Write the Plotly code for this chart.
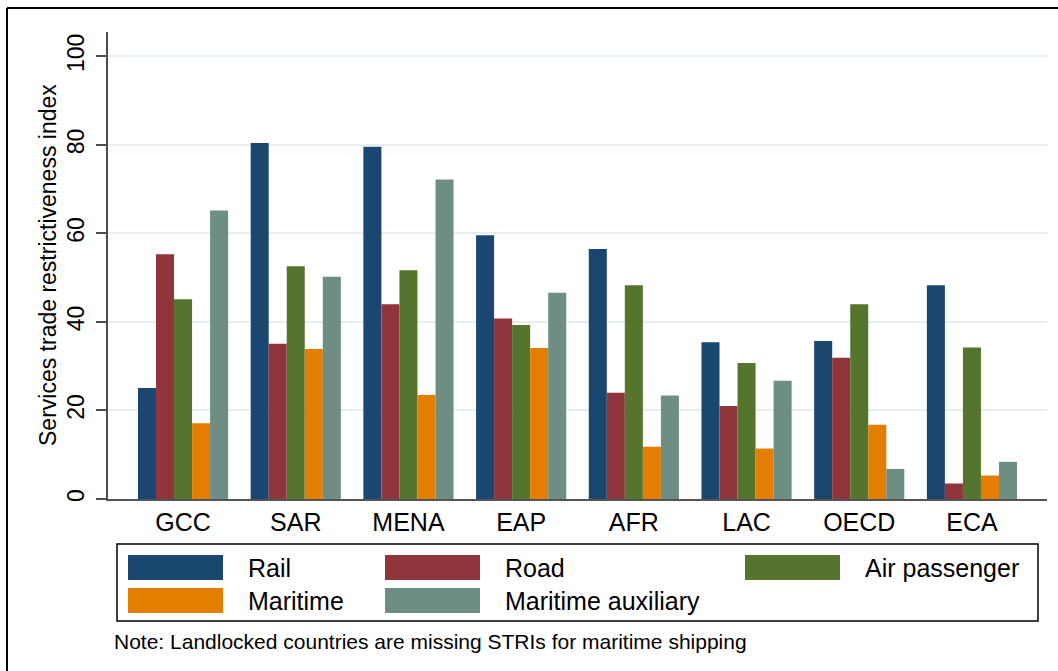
import plotly.graph_objects as go

regions = ["GCC", "SAR", "MENA", "EAP", "AFR", "LAC", "OECD", "ECA"]
rail = [25.1, 80.4, 79.6, 59.6, 56.5, 35.4, 35.7, 48.3]
road = [55.3, 35.1, 44.0, 40.8, 24.0, 21.0, 31.9, 3.5]
air_passenger = [45.1, 52.6, 51.7, 39.3, 48.3, 30.7, 44.0, 34.2]
maritime = [17.1, 33.9, 23.5, 34.1, 11.8, 11.4, 16.8, 5.3]
maritime_aux = [65.2, 50.2, 72.2, 46.6, 23.4, 26.7, 6.8, 8.4]

series_names = ["Rail", "Road", "Air passenger", "Maritime", "Maritime auxiliary"]
series_values = [rail, road, air_passenger, maritime, maritime_aux]
colors = ["#1a476f", "#90353b", "#55752f", "#e37e00", "#6e8e84"]

W, H = 1058, 671
L, R, T, B = 108, 11, 32, 172
FONT = "Liberation Sans, Arial, sans-serif"

# pixel -> paper helpers for the hand-made legend / frame
def px(x):
    return (x - L) / (W - L - R)

def py(y):
    return (H - B - y) / (H - T - B)

fig = go.Figure()
for name, vals, col in zip(series_names, series_values, colors):
    fig.add_trace(go.Bar(x=list(range(len(regions))), y=vals, name=name,
                         marker=dict(color=col, line=dict(width=0)),
                         showlegend=False))

shapes = []
annotations = []

# y title placed by hand (axis title standoff can't get close enough)
annotations.append(dict(text="Services trade restrictiveness index",
                        xref="paper", yref="paper", x=px(48), y=py(265),
                        textangle=-90, xanchor="center", yanchor="middle",
                        showarrow=False,
                        font=dict(size=23, color="black", family=FONT)))

# legend box
shapes.append(dict(type="rect", xref="paper", yref="paper",
                   x0=px(117), x1=px(1038), y0=py(544), y1=py(621),
                   line=dict(color="black", width=1.5), fillcolor="white"))
legend_slots = [(128, 555), (385, 555), (745, 555), (128, 588), (385, 588)]
for (sx, sy), name, col in zip(legend_slots, series_names, colors):
    shapes.append(dict(type="rect", xref="paper", yref="paper",
                       x0=px(sx), x1=px(sx + 95), y0=py(sy), y1=py(sy + 25),
                       line=dict(width=0), fillcolor=col))
    annotations.append(dict(text=name, xref="paper", yref="paper",
                            x=px(sx + 118), y=py(sy + 13),
                            xanchor="left", yanchor="middle", showarrow=False,
                            font=dict(size=25, color="black", family=FONT)))

annotations.append(dict(text="Note: Landlocked countries are missing STRIs for maritime shipping",
                        xref="paper", yref="paper", x=px(112), y=py(641),
                        xanchor="left", yanchor="middle", showarrow=False,
                        font=dict(size=21, color="black", family=FONT)))

# outer frame (left and top edges visible)
shapes.append(dict(type="line", xref="paper", yref="paper",
                   x0=px(7), x1=px(7), y0=py(8), y1=py(H + 5),
                   line=dict(color="black", width=2)))
shapes.append(dict(type="line", xref="paper", yref="paper",
                   x0=px(7), x1=px(W + 5), y0=py(8), y1=py(8),
                   line=dict(color="black", width=2)))

fig.update_layout(
    width=W, height=H,
    margin=dict(l=L, r=R, t=T, b=B),
    paper_bgcolor="white", plot_bgcolor="white",
    barmode="group", bargap=0.2, bargroupgap=0,
    font=dict(family=FONT, color="black", size=22),
    xaxis=dict(tickmode="array", tickvals=list(range(len(regions))), ticktext=regions,
               range=[-0.666, len(regions) - 1 + 0.666],
               showline=True, linecolor="#555555", linewidth=2,
               showgrid=False, ticks="", tickfont=dict(size=25), zeroline=False),
    yaxis=dict(range=[0, 105.5], tickvals=[0, 20, 40, 60, 80, 100],
               tickangle=-90, ticks="outside", ticklen=10, tickwidth=1.5,
               tickcolor="#4d4d4d", ticklabelstandoff=3,
               showline=True, linecolor="#4d4d4d", linewidth=1.5,
               gridcolor="#e8eff1", gridwidth=1.5, zeroline=False,
               tickfont=dict(size=23)),
    shapes=shapes,
    annotations=annotations,
)

# page body has a default 8px margin; drop it so the figure sits at (0, 0)
fig.write_html("out.html", config={"displayModeBar": False},
               post_script="document.body.style.margin='0px';")
